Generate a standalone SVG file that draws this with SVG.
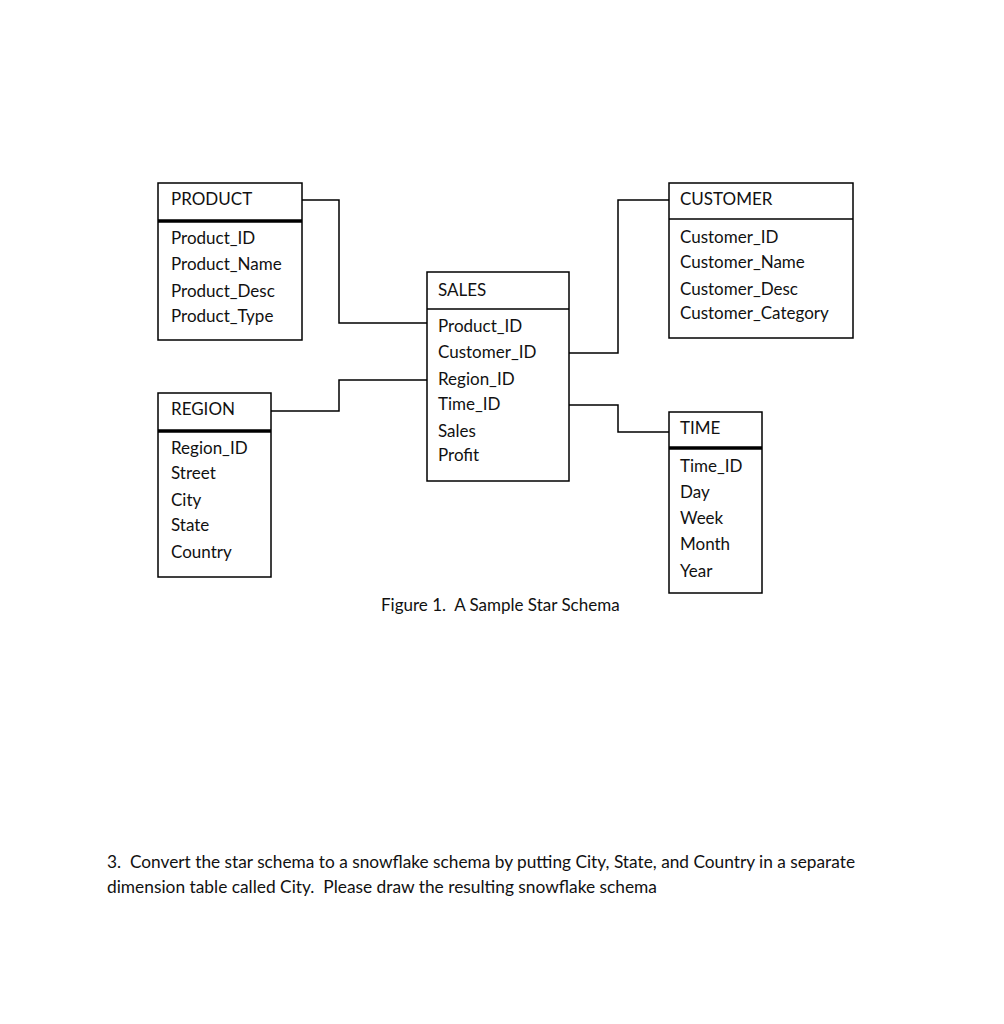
<svg xmlns="http://www.w3.org/2000/svg" width="1004" height="1024" viewBox="0 0 1004 1024">
<style>
  text { font-family: Lato, "Open Sans", "Liberation Sans", sans-serif; font-size: 17px; fill: #111; }
  .box { fill: #fff; stroke: #000; stroke-width: 1.5; }
  .div { stroke: #000; stroke-width: 1.3; }
  .thick { stroke: #000; stroke-width: 3.5; }
  .conn { fill: none; stroke: #000; stroke-width: 1.5; }
</style>
<rect x="0" y="0" width="1004" height="1024" fill="#fff"/>
<g id="connectors">
  <polyline class="conn" points="302,200 339,200 339,323 427,323"/>
  <polyline class="conn" points="271,411 339,411 339,380 427,380"/>
  <polyline class="conn" points="569,353 618,353 618,200 669,200"/>
  <polyline class="conn" points="569,405 618,405 618,432 669,432"/>
</g>
<g id="product">
  <rect class="box" x="158" y="183" width="144" height="157"/>
  <line class="thick" x1="158" y1="221" x2="302" y2="221"/>
  <text x="171" y="205">PRODUCT</text>
  <text x="171" y="244">Product_ID</text>
  <text x="171" y="270">Product_Name</text>
  <text x="171" y="297">Product_Desc</text>
  <text x="171" y="322">Product_Type</text>
</g>
<g id="sales">
  <rect class="box" x="427" y="272" width="142" height="209"/>
  <line class="div" x1="427" y1="309" x2="569" y2="309"/>
  <text x="438" y="296">SALES</text>
  <text x="438" y="332">Product_ID</text>
  <text x="438" y="358">Customer_ID</text>
  <text x="438" y="385">Region_ID</text>
  <text x="438" y="410">Time_ID</text>
  <text x="438" y="437">Sales</text>
  <text x="438" y="461">Profit</text>
</g>
<g id="customer">
  <rect class="box" x="669" y="183" width="184" height="155"/>
  <line class="div" x1="669" y1="219" x2="853" y2="219"/>
  <text x="680" y="205">CUSTOMER</text>
  <text x="680" y="243">Customer_ID</text>
  <text x="680" y="268">Customer_Name</text>
  <text x="680" y="295">Customer_Desc</text>
  <text x="680" y="319">Customer_Category</text>
</g>
<g id="region">
  <rect class="box" x="158" y="393" width="113" height="184"/>
  <line class="thick" x1="158" y1="431" x2="271" y2="431"/>
  <text x="171" y="415">REGION</text>
  <text x="171" y="454">Region_ID</text>
  <text x="171" y="479">Street</text>
  <text x="171" y="506">City</text>
  <text x="171" y="531">State</text>
  <text x="171" y="558">Country</text>
</g>
<g id="time">
  <rect class="box" x="669" y="412" width="93" height="181"/>
  <line class="thick" x1="669" y1="448" x2="762" y2="448"/>
  <text x="680" y="434">TIME</text>
  <text x="680" y="472">Time_ID</text>
  <text x="680" y="498">Day</text>
  <text x="680" y="524">Week</text>
  <text x="680" y="550">Month</text>
  <text x="680" y="577">Year</text>
</g>
<text x="381" y="611" xml:space="preserve">Figure 1.  A Sample Star Schema</text>
<text x="107" y="868" xml:space="preserve" textLength="748" lengthAdjust="spacingAndGlyphs">3.  Convert the star schema to a snowflake schema by putting City, State, and Country in a separate</text>
<text x="107" y="893" xml:space="preserve" textLength="550" lengthAdjust="spacingAndGlyphs">dimension table called City.  Please draw the resulting snowflake schema</text>
</svg>
